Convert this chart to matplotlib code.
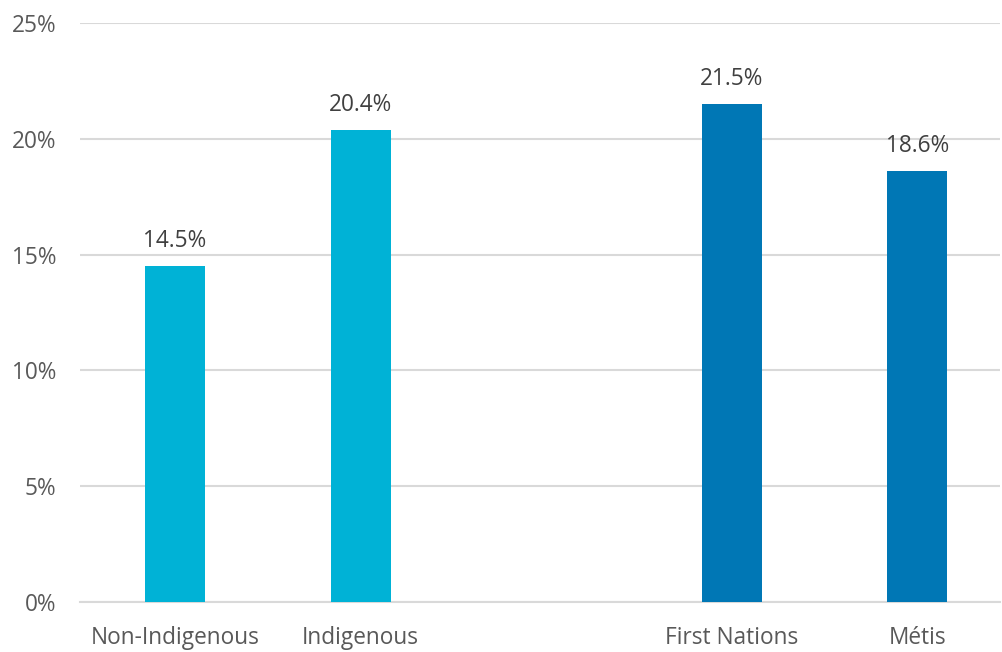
import matplotlib
matplotlib.use('Agg')

import matplotlib.pyplot as plt
import numpy as np

# bar values in percent; group 0 = overall, group 1 = Indigenous subgroups
categories = ['Non-Indigenous', 'Indigenous', 'First Nations', 'Métis']
values = [14.5, 20.4, 21.5, 18.6]
groups = [0, 0, 1, 1]
y_ticks = [0, 5, 10, 15, 20, 25]

colors = {0: '#00B2D6', 1: '#0077B5'}
plt.rcParams['font.family'] = ['Open Sans', 'DejaVu Sans']

# leave one empty slot between the two groups
x_pos = np.arange(len(categories)) + np.array(groups)

fig = plt.figure(figsize=(10.02, 6.52), dpi=100)
ax = fig.add_axes([0.080, 0.0767, 0.918, 0.888])

bars = ax.bar(x_pos, values, width=0.323, color=[colors[g] for g in groups], zorder=3)
for b, v in zip(bars, values):
	ax.text(b.get_x() + b.get_width() / 2, v + 0.55, '%.1f%%' % v,
		ha='center', va='bottom', fontsize=16.3, color='#404040')

ax.set_xlim(-0.511, 4.446)
ax.set_ylim(0, 25)
ax.set_yticks(y_ticks)
ax.set_yticklabels(['%d%%' % t for t in y_ticks])
ax.set_xticks(x_pos)
ax.set_xticklabels(categories)
ax.tick_params(axis='both', length=0, labelsize=16.3, colors='#595959')
ax.tick_params(axis='y', pad=17)
ax.tick_params(axis='x', pad=17)

ax.yaxis.grid(True, color='#D9D9D9', linewidth=1.5, zorder=0)
for side in ['top', 'right', 'left']:
	ax.spines[side].set_visible(False)
ax.spines['bottom'].set_color('#D9D9D9')
ax.spines['bottom'].set_linewidth(1.5)

fig.savefig('out.png', dpi=100)
